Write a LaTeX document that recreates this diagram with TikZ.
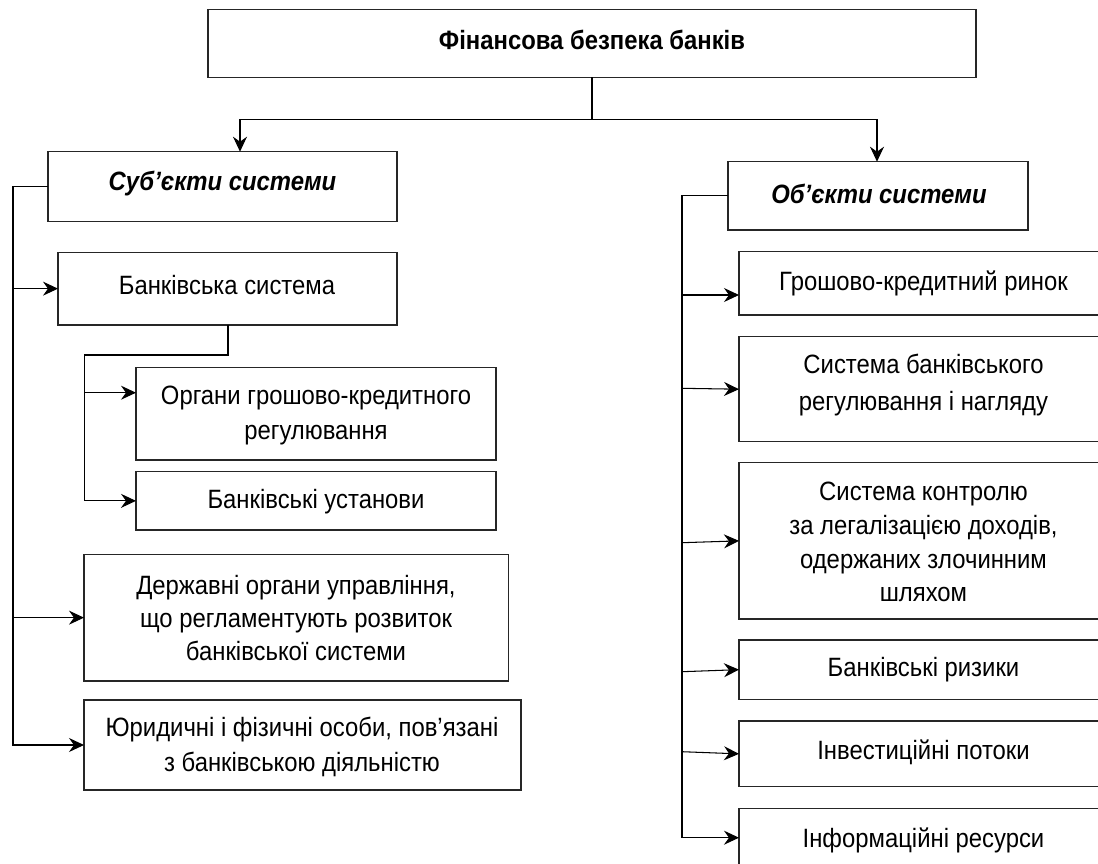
\documentclass[tikz,border=0pt]{standalone}
\usepackage{fontspec}
\setmainfont{Liberation Sans}[FakeStretch=0.9]
\usetikzlibrary{arrows.meta,calc}
\newcommand\mkbox[5]{%
  \pgfmathsetmacro\bxw{#4-#2}\pgfmathsetmacro\bxh{#5-#3}%
  \pgfmathsetmacro\bxx{(#2+#4)/2}\pgfmathsetmacro\bxy{(#3+#5)/2}%
  \node[box, minimum width=\bxw pt, minimum height=\bxh pt] (#1) at (\bxx,\bxy) {};}
\begin{document}
\begin{tikzpicture}[x=1pt,y=-1pt,
  box/.style={draw=black!85, line width=1.3pt, inner sep=0pt, outer sep=0pt, rectangle},
  txt/.style={inner sep=0pt, align=center, font=\fontsize{26.5}{34}\selectfont},
  txtb/.style={inner sep=0pt, align=center, font=\fontsize{26.5}{34}\selectfont\bfseries},
  txtbi/.style={inner sep=0pt, align=center, font=\fontsize{26.5}{34}\selectfont\bfseries\itshape},
  conn/.style={line width=1.05pt, black},
  arr/.style={conn, -{Stealth[length=15pt,width=14pt,inset=5pt]}},
]
\useasboundingbox (0,0) rectangle (1098,863);
\clip (0,0) rectangle (1098,863);
\fill[white] (0,0) rectangle (1098,863);

% boxes
\mkbox{top}{208}{9.3}{976}{77.3}
\mkbox{subj}{48}{151.7}{397}{221.7}
\mkbox{obj}{728}{161.7}{1028}{230}
\mkbox{bank}{58}{252.3}{397}{325}
\mkbox{organy}{136}{367.7}{496}{460}
\mkbox{ustanovy}{136}{471.7}{496}{530}
\mkbox{derzh}{84}{554.3}{508.6}{681}
\mkbox{yuryd}{84}{700}{521}{790}
\mkbox{hrosh}{739}{251.7}{1108}{315}
\mkbox{sysbank}{739}{336.7}{1108}{441.7}
\mkbox{sysctrl}{739}{462.7}{1108}{619}
\mkbox{ryzyky}{739}{640}{1108}{699.3}
\mkbox{invest}{739}{721}{1108}{786.7}
\mkbox{inform}{739}{808.3}{1108}{900}

% texts
\node[txtb] (top-t) at (592,40.4) {Фінансова безпека банків};
\node[txtbi] (subj-t) at (222.5,183.8) {Суб’єкти системи};
\node[txtbi] (obj-t) at (879,193.8) {Об’єкти системи};
\node[txt] (bank-t) at (227,284.8) {Банківська система};
\node[txt, font=\fontsize{26.5}{35}\selectfont] (organy-t) at (316,415) {Органи грошово-кредитного\\регулювання};
\node[txt] (ustanovy-t) at (316,502) {Банківські установи};
\node[txt, font=\fontsize{26.5}{33.3}\selectfont] (derzh-t) at (296,618) {Державні органи управління,\\що регламентують розвиток\\банківської системи};
\node[txt, font=\fontsize{26.5}{35}\selectfont] (yuryd-t) at (302,747) {Юридичні і фізичні особи, пов’язані\\з банківською діяльністю};
\node[txt] (hrosh-t) at (923.5,283.7) {Грошово-кредитний ринок};
\node[txt, font=\fontsize{26.5}{36.7}\selectfont] (sysbank-t) at (923.5,385) {Система банківського\\регулювання і нагляду};
\node[txt, font=\fontsize{26.5}{33.9}\selectfont] (sysctrl-t) at (923.5,542) {Система контролю\\за легалізацією доходів,\\одержаних злочинним\\шляхом};
\node[txt] (ryzyky-t) at (923.5,670) {Банківські ризики};
\node[txt] (invest-t) at (923.5,752) {Інвестиційні потоки};
\node[txt] (inform-t) at (923.5,840.4) {Інформаційні ресурси};

% top connectors
\coordinate (topj) at (592,119.3);
\coordinate (jl) at (240,119.3);
\coordinate (jr) at (877,119.3);
\draw[conn] (top.south) -- (topj);
\draw[conn] (jl) -- (jr);
\draw[arr] (jl) -- (jl |- subj.north);
\draw[arr] (jr) -- (jr |- obj.north);

% left bus
\coordinate (lb) at (13,0);
\draw[arr] (subj.west) -| (lb |- yuryd.west) -- (yuryd.west);
\draw[arr] (lb |- bank.west) -- (bank.west);
\draw[arr] (lb |- derzh.west) -- (derzh.west);

% bank sub-branch
\coordinate (bs) at (228,355);
\coordinate (bsl) at (84.5,355);
\coordinate (oa) at (84.5,392.7);
\draw[arr] (bs |- bank.south) -- (bs) -- (bsl) -- (bsl |- ustanovy.west) -- (ustanovy.west);
\draw[arr] (oa) -- (oa -| organy.west);

% right bus
\coordinate (ri) at (682,837.7);
\coordinate (rh) at (682,295);
\coordinate (rsb) at (682,388.3);
\coordinate (rsc) at (682,542.7);
\coordinate (rr) at (682,671.7);
\coordinate (rin) at (682,751.7);
\draw[arr] (obj.west) -| (ri) -- (ri -| inform.west);
\draw[arr] (rh) -- (rh -| hrosh.west);
\draw[arr] (rsb) -- (sysbank.west);
\draw[arr] (rsc) -- (sysctrl.west);
\draw[arr] (rr) -- (ryzyky.west);
\draw[arr] (rin) -- (invest.west);
\end{tikzpicture}
\end{document}
